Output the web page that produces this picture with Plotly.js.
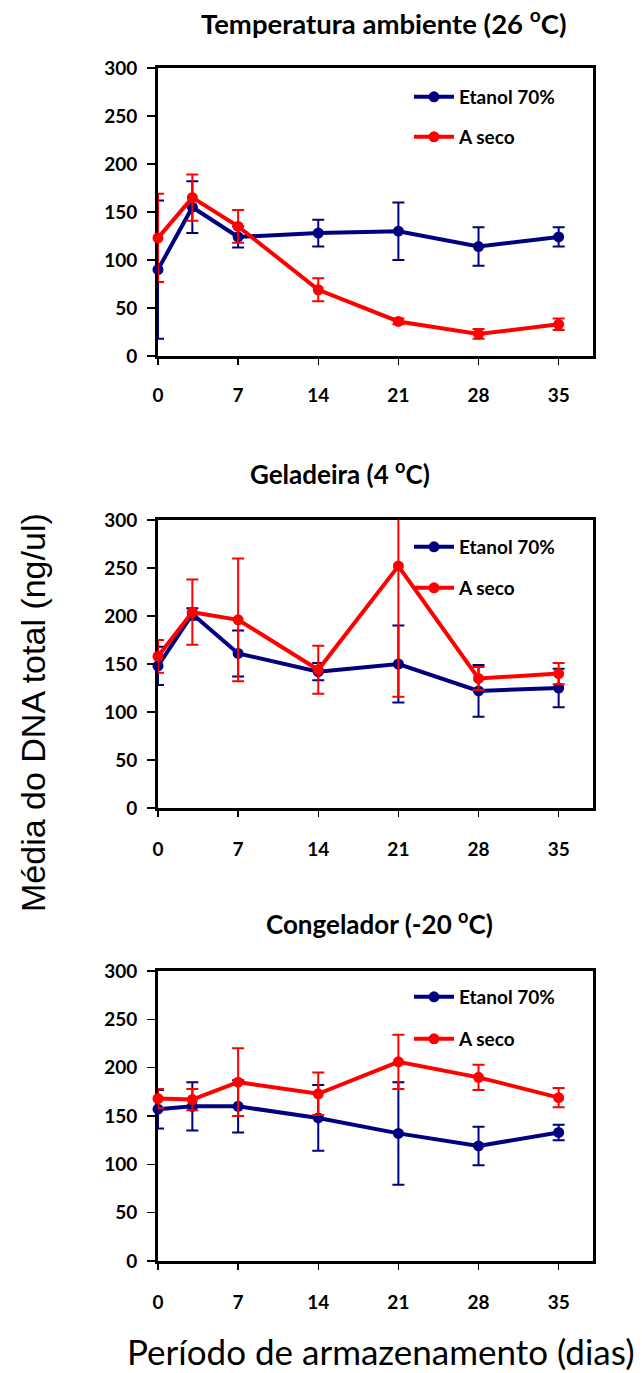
<!DOCTYPE html>
<html>
<head>
<meta charset="utf-8">
<script src="https://cdn.plot.ly/plotly-3.0.1.min.js"></script>
<style>html,body{margin:0;padding:0;background:#fff;}#chart{width:642px;height:1373px;}</style>
</head>
<body>
<div id="chart"></div>
<script>
// ---- data ----
const days = [0, 3, 7, 14, 21, 28, 35];
const tickDays = [0, 7, 14, 21, 28, 35];
const seriesNames = ['Etanol 70%', 'A seco'];
const panelTitles = [
  'Temperatura ambiente (26 <sup>o</sup>C)',
  'Geladeira (4 <sup>o</sup>C)',
  'Congelador (-20 <sup>o</sup>C)'
];
const yTitle = 'Média do DNA total (ng/ul)';
const xTitle = 'Período de armazenamento (dias)';

// Temperatura ambiente
const ambEtanol = [90, 155, 124, 128, 130, 114, 124];
const ambEtanolErr = [72, 27, 11, 14, 30, 20, 10];
const ambSeco = [123, 165, 135, 69, 36, 23, 33];
const ambSecoErr = [46, 24, 17, 12, 3, 5, 6];
// Geladeira
const gelEtanol = [148, 202, 161, 142, 150, 122, 125];
const gelEtanolErr = [20, 6, 24, 9, 40, 27, 20];
const gelSeco = [158, 204, 196, 144, 252, 135, 140];
const gelSecoErr = [17, 34, 64, 25, 136, 12, 11];
// Congelador
const congEtanol = [157, 160, 160, 148, 132, 119, 133];
const congEtanolErr = [20, 25, 27, 34, 53, 20, 8];
const congSeco = [168, 167, 185, 173, 206, 190, 169];
const congSecoErr = [10, 11, 35, 22, 28, 13, 10];

// ---- layout helpers ----
const W = 642, H = 1373;
const px = p => p / W;
const py = p => 1 - p / H;
const BLUE = '#000080', RED = '#FF0000';
const colors = [BLUE, RED];

const panels = [
  {vals: [ambEtanol, ambSeco], errs: [ambEtanolErr, ambSecoErr], top: 68, bottom: 356, title: {x: 384, y: 22, size: 27.5}, leg: [97, 137]},
  {vals: [gelEtanol, gelSeco], errs: [gelEtanolErr, gelSecoErr], top: 520, bottom: 808, title: {x: 340, y: 472, size: 26}, leg: [547, 588]},
  {vals: [congEtanol, congSeco], errs: [congEtanolErr, congSecoErr], top: 971, bottom: 1261, title: {x: 380, y: 923, size: 26}, leg: [997, 1039]}
];

const traces = [];
const layout = {
  width: W, height: H,
  margin: {l: 0, r: 0, t: 0, b: 0},
  paper_bgcolor: '#fff', plot_bgcolor: '#fff',
  showlegend: true,
  annotations: [],
  font: {family: 'Lato, "Liberation Sans", sans-serif', color: '#000'}
};

let legIdx = 0;
panels.forEach((p, i) => {
  const sfx = i === 0 ? '' : String(i + 1);
  const xa = 'x' + sfx, ya = 'y' + sfx;
  layout['xaxis' + sfx] = {
    domain: [px(158), px(593)], anchor: ya,
    range: [0, 38], tickvals: tickDays, ticktext: tickDays.map(String),
    ticks: 'outside', ticklen: 6, tickwidth: 1.5, tickcolor: '#000',
    showline: true, linewidth: 3, linecolor: '#000', mirror: true,
    showgrid: false, zeroline: false, layer: 'below traces',
    ticklabelstandoff: i === 0 ? 14 : 16,
    tickfont: {family: 'Lato', size: 19, weight: 'bold', color: '#000'}
  };
  layout['yaxis' + sfx] = {
    domain: [py(p.bottom), py(p.top)], anchor: xa,
    range: [0, 300], tickvals: [0, 50, 100, 150, 200, 250, 300],
    ticks: 'outside', ticklen: 8, tickwidth: 1.5, tickcolor: '#000',
    showline: true, linewidth: 3, linecolor: '#000', mirror: true,
    showgrid: false, zeroline: false, layer: 'below traces',
    ticklabelstandoff: 6,
    tickfont: {family: 'Lato', size: 19, weight: 'bold', color: '#000'}
  };
  layout.annotations.push({
    text: panelTitles[i], xref: 'paper', yref: 'paper',
    x: px(p.title.x), y: py(p.title.y), xanchor: 'center', yanchor: 'middle',
    showarrow: false, font: {family: 'Lato', size: p.title.size, weight: 'bold', color: '#000'}
  });
  [0, 1].forEach(s => {
    // error bars (clipped to plot area only where the reference clips them)
    traces.push({
      x: days, y: p.vals[s], xaxis: xa, yaxis: ya, type: 'scatter', mode: 'markers',
      marker: {size: 11, color: colors[s], opacity: 0},
      error_y: {type: 'data', array: p.errs[s], visible: true, color: colors[s], thickness: 2, width: 6},
      cliponaxis: (i === 1 && s === 1), showlegend: false, hoverinfo: 'skip'
    });
    legIdx += 1;
    const legName = legIdx === 1 ? 'legend' : 'legend' + legIdx;
    traces.push({
      x: days, y: p.vals[s], xaxis: xa, yaxis: ya, type: 'scatter', mode: 'lines+markers',
      name: seriesNames[s], legend: legName,
      line: {color: colors[s], width: 4},
      marker: {size: 11, color: colors[s]},
      cliponaxis: false
    });
    layout[legName] = {
      x: px(409), y: py(p.leg[s]), xanchor: 'left', yanchor: 'middle',
      itemwidth: 40,
      bgcolor: 'rgba(0,0,0,0)', borderwidth: 0,
      font: {family: 'Lato', size: 19, weight: 'bold', color: '#000'}
    };
  });
});

layout.annotations.push({
  text: yTitle, xref: 'paper', yref: 'paper', x: px(33), y: py(713),
  xanchor: 'center', yanchor: 'middle', textangle: -90, showarrow: false,
  font: {family: '"Liberation Sans", Arial, sans-serif', size: 34, color: '#000'}
});
layout.annotations.push({
  text: xTitle, xref: 'paper', yref: 'paper', x: px(381), y: 0,
  xanchor: 'center', yanchor: 'bottom', showarrow: false, borderpad: 0,
  font: {family: 'Lato', size: 35, color: '#000'}
});

Plotly.newPlot('chart', traces, layout, {staticPlot: true, displayModeBar: false});
</script>
</body>
</html>
